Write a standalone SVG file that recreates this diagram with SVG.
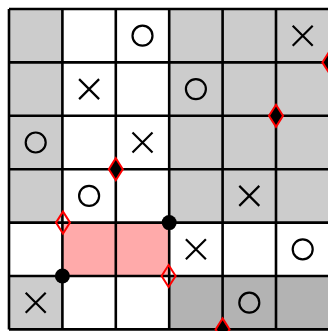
<svg xmlns="http://www.w3.org/2000/svg" width="328" height="331" viewBox="0 0 328 331">
<style>
.g{fill:#cccccc}.w{fill:#ffffff}.p{fill:#ffaaaa}.d{fill:#b3b3b3}
.grid{stroke:#000;stroke-width:2.6;fill:none}
.mk{stroke:#000;stroke-width:2.2;fill:none}
.dia{stroke:#ff0000;stroke-width:2;stroke-linejoin:miter}
</style>
<defs>
<path id="x" d="M-10,-10L10,10M10,-10L-10,10" class="mk"/>
<circle id="o" r="10" class="mk"/>
<path id="dm" d="M0,-11L7,0L0,11L-7,0Z"/>
</defs>
<rect width="328" height="331" fill="#fff"/>
<g id="cells">
<rect class="g" x="9" y="9" width="53.4" height="53.4"/>
<rect class="g" x="169.2" y="9" width="160.2" height="53.4"/>
<rect class="g" x="9" y="62.4" width="53.4" height="53.4"/>
<rect class="g" x="169.2" y="62.4" width="160.2" height="53.4"/>
<rect class="g" x="9" y="115.8" width="53.4" height="53.4"/>
<rect class="g" x="169.2" y="115.8" width="160.2" height="53.4"/>
<rect class="g" x="9" y="169.2" width="53.4" height="53.4"/>
<rect class="g" x="169.2" y="169.2" width="160.2" height="53.4"/>
<rect class="p" x="62.4" y="222.6" width="106.8" height="53.4"/>
<rect class="g" x="9" y="276" width="53.4" height="53.4"/>
<rect class="d" x="169.2" y="276" width="160.2" height="53.4"/>
</g>
<g id="grid" class="grid">
<path d="M9,9V329.4M62.4,9V329.4M115.8,9V329.4M169.2,9V329.4M222.6,9V329.4M276,9V329.4M329.4,9V329.4"/>
<path d="M9,9H329.4M9,62.4H329.4M9,115.8H329.4M9,169.2H329.4M9,222.6H329.4M9,276H329.4M9,329.4H329.4"/>
</g>
<g id="marks">
<use href="#o" x="142.5" y="35.7"/>
<use href="#x" x="302.7" y="35.7"/>
<use href="#x" x="89.1" y="89.1"/>
<use href="#o" x="195.9" y="89.1"/>
<use href="#o" x="35.7" y="142.5"/>
<use href="#x" x="142.5" y="142.5"/>
<use href="#o" x="89.1" y="195.9"/>
<use href="#x" x="249.3" y="195.9"/>
<use href="#x" x="195.9" y="249.3"/>
<use href="#o" x="302.7" y="249.3"/>
<use href="#x" x="35.7" y="302.7"/>
<use href="#o" x="249.3" y="302.7"/>
</g>
<g id="points">
<circle cx="62.4" cy="276" r="7.5" fill="#000"/>
<circle cx="169.2" cy="222.6" r="7.5" fill="#000"/>
<use href="#dm" x="115.8" y="169.2" class="dia" fill="#000"/>
<use href="#dm" x="276" y="115.8" class="dia" fill="#000"/>
<use href="#dm" x="329.4" y="62.4" class="dia" fill="#000"/>
<use href="#dm" x="222.6" y="329.4" class="dia" fill="#000"/>
<use href="#dm" x="63" y="222.6" class="dia" fill="none"/>
<use href="#dm" x="168.6" y="276" class="dia" fill="none"/>
</g>
</svg>
